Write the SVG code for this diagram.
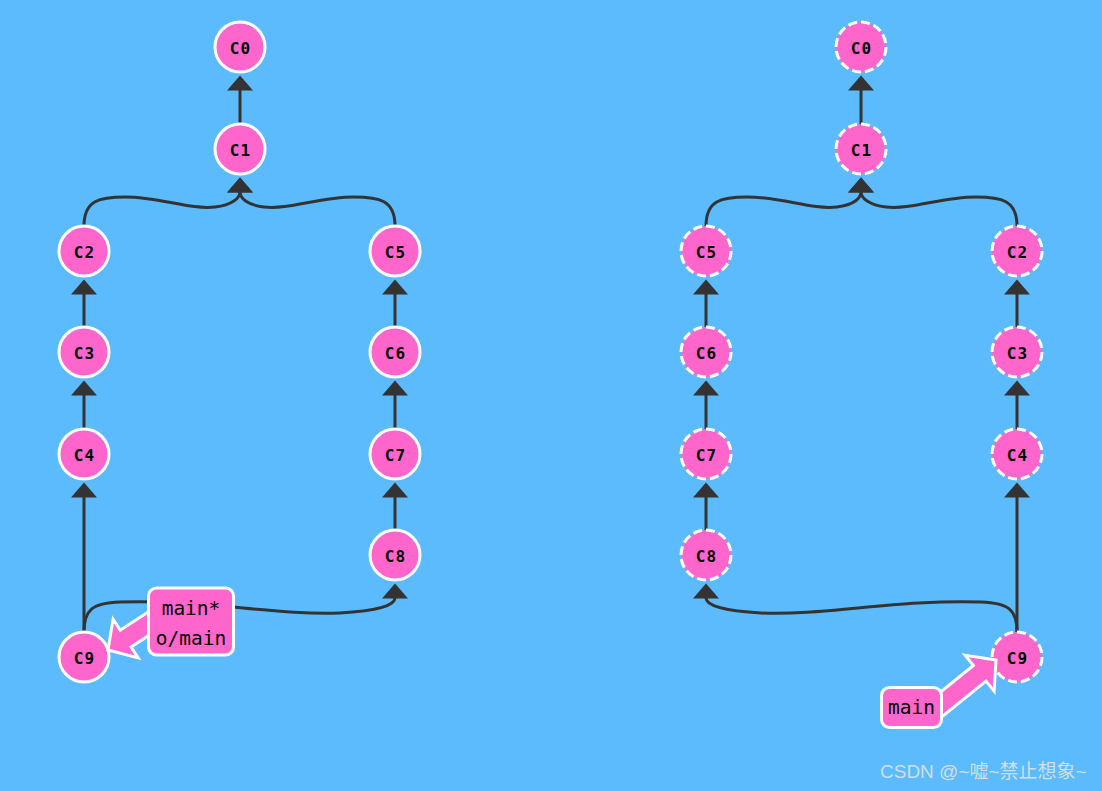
<svg xmlns="http://www.w3.org/2000/svg" width="1102" height="791" viewBox="0 0 1102 791">
<defs>
<marker id="ah" viewBox="0 0 16 26" refX="0.5" refY="13" markerWidth="16" markerHeight="26" markerUnits="userSpaceOnUse" orient="auto">
<path d="M0,0 L15,13 L0,26 Z" fill="#333333"/>
</marker>
<style>
.edge{fill:none;stroke:#333333;stroke-width:3;marker-end:url(#ah)}
.c{fill:#ff66cc;stroke:#ffffff;stroke-width:3}
.cd{fill:#ff66cc;stroke:#ffffff;stroke-width:3;stroke-dasharray:9 4}
.t{font-family:"DejaVu Sans Mono",monospace;font-weight:bold;font-size:16px;letter-spacing:1px;text-anchor:middle;dominant-baseline:central;fill:#000}
.lb{fill:#ff66cc;stroke:#ffffff;stroke-width:3}
.lt{font-family:"DejaVu Sans Mono",monospace;font-size:19.5px;text-anchor:middle;dominant-baseline:central;fill:#000}
.la{fill:#ff66cc;stroke:#ffffff;stroke-width:3;stroke-linejoin:miter}
</style>
</defs>
<rect width="1102" height="791" fill="#5cbbfc"/>
<g id="connectors">
<path class="edge" d="M240,124 L240,90"/>
<path class="edge" d="M84,226 C84,200 100,197 125,197 C160,197 190,210 215,207 C232,205 240,198 240,192"/>
<path class="edge" d="M395,226 C395,200 379,197 354,197 C319,197 289,210 264,207 C247,205 240,198 240,192"/>
<path class="edge" d="M84,327 L84,294"/>
<path class="edge" d="M84,429 L84,395"/>
<path class="edge" d="M84,632 L84,497"/>
<path class="edge" d="M395,327 L395,294"/>
<path class="edge" d="M395,429 L395,395"/>
<path class="edge" d="M395,530 L395,497"/>
<path class="edge" d="M84,632 C84,610 92,603 120,602 C200,599 280,616 340,613 C375,611 395,606 395,598"/>
<path class="edge" d="M861,124 L861,90"/>
<path class="edge" d="M706,226 C706,200 722,197 747,197 C782,197 812,210 837,207 C854,205 861,198 861,192"/>
<path class="edge" d="M1017,226 C1017,200 1001,197 976,197 C941,197 911,210 886,207 C869,205 861,198 861,192"/>
<path class="edge" d="M706,327 L706,294"/>
<path class="edge" d="M706,429 L706,395"/>
<path class="edge" d="M706,530 L706,497"/>
<path class="edge" d="M1017,327 L1017,294"/>
<path class="edge" d="M1017,429 L1017,395"/>
<path class="edge" d="M1017,632 L1017,497"/>
<path class="edge" d="M1017,632 C1017,610 1009,603 981,602 C901,599 821,616 761,613 C726,611 706,606 706,598"/>
</g>
<g id="L-C0"><circle class="c" cx="240" cy="47" r="25"/><text class="t" x="240.5" y="48">C0</text></g>
<g id="L-C1"><circle class="c" cx="240" cy="149" r="25"/><text class="t" x="240.5" y="150">C1</text></g>
<g id="L-C2"><circle class="c" cx="84" cy="251" r="25"/><text class="t" x="84.5" y="252">C2</text></g>
<g id="L-C3"><circle class="c" cx="84" cy="352" r="25"/><text class="t" x="84.5" y="353">C3</text></g>
<g id="L-C4"><circle class="c" cx="84" cy="454" r="25"/><text class="t" x="84.5" y="455">C4</text></g>
<g id="L-C5"><circle class="c" cx="395" cy="251" r="25"/><text class="t" x="395.5" y="252">C5</text></g>
<g id="L-C6"><circle class="c" cx="395" cy="352" r="25"/><text class="t" x="395.5" y="353">C6</text></g>
<g id="L-C7"><circle class="c" cx="395" cy="454" r="25"/><text class="t" x="395.5" y="455">C7</text></g>
<g id="L-C8"><circle class="c" cx="395" cy="555" r="25"/><text class="t" x="395.5" y="556">C8</text></g>
<g id="L-C9"><circle class="c" cx="84" cy="657" r="25"/><text class="t" x="84.5" y="658">C9</text></g>
<g id="R-C0"><circle class="cd" cx="861" cy="47" r="25"/><text class="t" x="861.5" y="48">C0</text></g>
<g id="R-C1"><circle class="cd" cx="861" cy="149" r="25"/><text class="t" x="861.5" y="150">C1</text></g>
<g id="R-C5"><circle class="cd" cx="706" cy="251" r="25"/><text class="t" x="706.5" y="252">C5</text></g>
<g id="R-C6"><circle class="cd" cx="706" cy="352" r="25"/><text class="t" x="706.5" y="353">C6</text></g>
<g id="R-C7"><circle class="cd" cx="706" cy="454" r="25"/><text class="t" x="706.5" y="455">C7</text></g>
<g id="R-C8"><circle class="cd" cx="706" cy="555" r="25"/><text class="t" x="706.5" y="556">C8</text></g>
<g id="R-C2"><circle class="cd" cx="1017" cy="251" r="25"/><text class="t" x="1017.5" y="252">C2</text></g>
<g id="R-C3"><circle class="cd" cx="1017" cy="352" r="25"/><text class="t" x="1017.5" y="353">C3</text></g>
<g id="R-C4"><circle class="cd" cx="1017" cy="454" r="25"/><text class="t" x="1017.5" y="455">C4</text></g>
<g id="R-C9"><circle class="cd" cx="1017" cy="657" r="25"/><text class="t" x="1017.5" y="658">C9</text></g>
<g id="L-label">
<polygon class="la" transform="translate(108,650) rotate(147)" points="0,0 -21,-23 -21,-10 -70,-10 -70,10 -21,10 -21,23"/>
<rect class="lb" x="148.5" y="588" width="85" height="67" rx="8"/>
<text class="lt" x="191" y="608">main*</text>
<text class="lt" x="191" y="638">o/main</text>
</g>
<g id="R-label">
<polygon class="la" transform="translate(996,660) rotate(-39)" points="0,0 -21,-23 -21,-10 -80,-10 -80,10 -21,10 -21,23"/>
<rect class="lb" x="881.5" y="687.5" width="60" height="40" rx="8"/>
<text class="lt" x="911.5" y="707">main</text>
</g>
<text x="880" y="778" font-family="'Liberation Sans','Noto Sans CJK SC',sans-serif" font-size="19" fill="#dfe3e8" fill-opacity="0.9">CSDN @~嘘~禁止想象~</text>
</svg>
